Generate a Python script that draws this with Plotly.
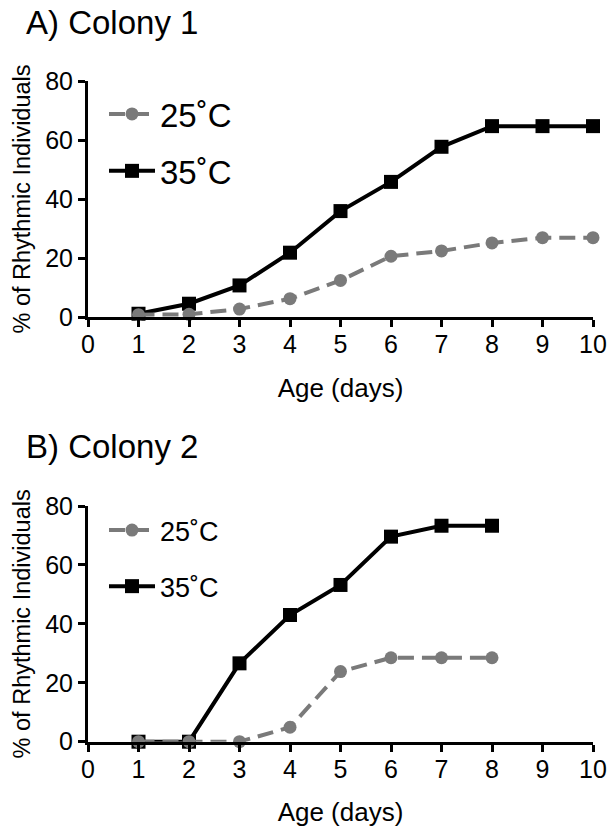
import plotly.graph_objects as go

days_a = [1, 2, 3, 4, 5, 6, 7, 8, 9, 10]
a_25 = [0.8, 0.9, 2.7, 6.2, 12.4, 20.6, 22.4, 25.1, 26.9, 26.9]
a_35 = [1.1, 4.5, 10.7, 21.8, 35.9, 45.8, 57.7, 64.7, 64.7, 64.7]

days_b = [1, 2, 3, 4, 5, 6, 7, 8]
b_25 = [0, 0, 0, 4.9, 23.8, 28.5, 28.5, 28.5]
b_35 = [0, 0, 26.6, 43.0, 53.2, 69.6, 73.3, 73.3]

labels = ["25˚C", "35˚C"]
x_ticks = list(range(0, 11))
y_ticks = [0, 20, 40, 60, 80]

GRAY = "#7a7a7a"
FONT = "Liberation Sans, Arial, sans-serif"

fig = go.Figure()

def add_pair(xs, y25, y35, xa, ya, leg, tag):
    fig.add_trace(go.Scatter(
        x=xs, y=y35, name=labels[1], mode="lines+markers", xaxis=xa, yaxis=ya,
        line=dict(color="black", width=4),
        marker=dict(symbol="square", size=14, color="black"),
        cliponaxis=False, legend=leg, legendrank=2, legendgroup=tag + "35"))
    fig.add_trace(go.Scatter(
        x=xs, y=y25, name=labels[0], mode="lines+markers", xaxis=xa, yaxis=ya,
        line=dict(color=GRAY, width=4, dash="16px,8px"),
        marker=dict(symbol="circle", size=13, color=GRAY),
        cliponaxis=False, legend=leg, legendrank=1, legendgroup=tag + "25"))

add_pair(days_a, a_25, a_35, "x", "y", "legend", "a")
add_pair(days_b, b_25, b_35, "x2", "y2", "legend2", "b")

W, H = 609, 829
xdom = [88 / W, 593 / W]
ydomA = [1 - 317 / H, 1 - 81 / H]
ydomB = [1 - 741.7 / H, 1 - 506 / H]

axis_common = dict(showgrid=False, zeroline=False, showline=True, linecolor="black",
                   linewidth=3, ticks="outside", ticklen=7, tickwidth=3, tickcolor="black",
                   automargin=False,
                   tickfont=dict(size=25, color="black", family=FONT))

xax = dict(axis_common, range=[0, 10], tickvals=x_ticks, domain=xdom, ticklabelstandoff=-4,
           title=dict(text="Age (days)", font=dict(size=26, color="black", family=FONT), standoff=22))
yax = dict(axis_common, range=[0, 80], tickvals=y_ticks,
           title=dict(text="% of Rhythmic Individuals", font=dict(size=23.5, color="black", family=FONT), standoff=8))

fig.update_layout(
    width=W, height=H, margin=dict(l=0, r=0, t=0, b=0, autoexpand=False),
    paper_bgcolor="white", plot_bgcolor="white",
    font=dict(family=FONT, color="black"),
    xaxis=dict(xax, anchor="y"),
    yaxis=dict(yax, domain=ydomA, anchor="x"),
    xaxis2=dict(xax, anchor="y2"),
    yaxis2=dict(yax, domain=ydomB, anchor="x2"),
    legend=dict(x=104 / W, y=1 - 86 / H, xanchor="left", yanchor="top",
                font=dict(size=33, family=FONT, color="black"), tracegroupgap=11,
                traceorder="grouped", itemwidth=46, bgcolor="rgba(0,0,0,0)"),
    legend2=dict(x=104 / W, y=1 - 506 / H, xanchor="left", yanchor="top",
                 font=dict(size=27, family=FONT, color="black"), tracegroupgap=18,
                 traceorder="grouped", itemwidth=46, bgcolor="rgba(0,0,0,0)"),
    annotations=[
        dict(text="A) Colony 1", x=24 / W, y=1 - 22 / H, xref="paper", yref="paper",
             xanchor="left", yanchor="middle", showarrow=False,
             font=dict(size=33, family=FONT, color="black")),
        dict(text="B) Colony 2", x=24 / W, y=1 - 446 / H, xref="paper", yref="paper",
             xanchor="left", yanchor="middle", showarrow=False,
             font=dict(size=33, family=FONT, color="black")),
    ],
)

fig.write_html("out.html")
